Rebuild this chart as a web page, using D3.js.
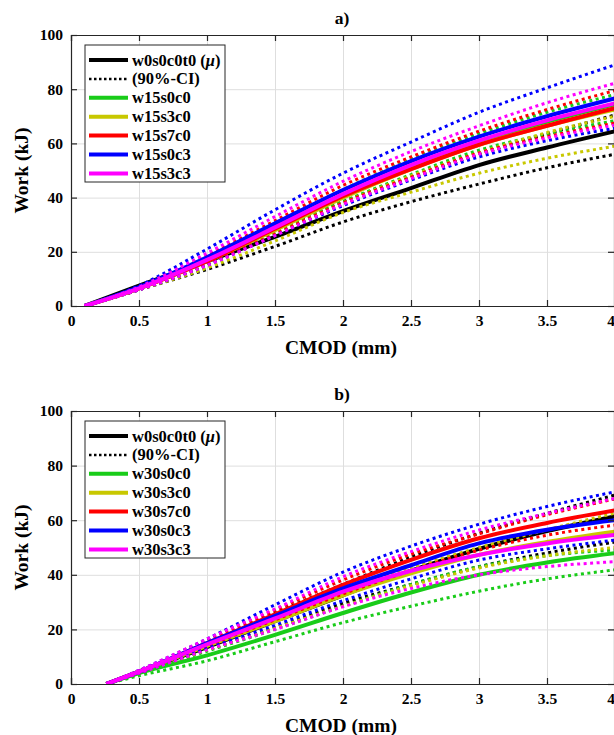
<!DOCTYPE html>
<html><head><meta charset="utf-8">
<script src="https://cdn.jsdelivr.net/npm/d3@7"></script>
<style>
body{margin:0;background:#fff;}
svg{display:block;font-family:"Liberation Serif","Times New Roman",serif;font-weight:bold;}
</style>
</head><body><svg id="c" width="614" height="735"></svg>
<script>
// ---------- data ----------
const xTicks = [0, 0.5, 1, 1.5, 2, 2.5, 3, 3.5, 4];
const yTicks = [0, 20, 40, 60, 80, 100];
const xTickLabels = ["0", "0.5", "1", "1.5", "2", "2.5", "3", "3.5", "4"];
const yTickLabels = ["0", "20", "40", "60", "80", "100"];

const cmodA = [0.1, 0.5, 1, 1.5, 2, 2.5, 3, 3.5, 4];
const cmodB = [0.26, 0.5, 1, 1.5, 2, 2.5, 3, 3.5, 4];

const namesA = ["w0s0c0t0", "w15s0c0", "w15s3c0", "w15s7c0", "w15s0c3", "w15s3c3"];
const namesB = ["w0s0c0t0", "w30s0c0", "w30s3c0", "w30s7c0", "w30s0c3", "w30s3c3"];
const colors = ["#000000", "#19cc19", "#c8c800", "#ff0000", "#0000ff", "#ff00ff"];

// panel a) : mean, upper CI, lower CI (kJ)
const a_w0_mean  = [0, 7.5, 16.5, 25.5, 35, 43.5, 52, 58.5, 64.5];
const a_w0_up    = [0, 7, 17.5, 28, 38.5, 47.5, 56, 63.5, 70.5];
const a_w0_lo    = [0, 6, 13.5, 22, 31, 38.5, 45, 51, 56];
const a_s0c0_mean= [0, 6.5, 17, 29, 41, 51.5, 60.5, 68, 74.5];
const a_s0c0_up  = [0, 7, 18, 30.5, 43, 54, 63.5, 71.5, 78];
const a_s0c0_lo  = [0, 6, 15.5, 27, 38.5, 48.5, 57.5, 63.5, 68.4];
const a_s3c0_mean= [0, 6.5, 16.5, 28, 40, 50.5, 59.5, 66.5, 72.5];
const a_s3c0_up  = [0, 6.5, 15.5, 26.5, 38, 48, 56.5, 64, 70];
const a_s3c0_lo  = [0, 6, 14, 24, 34.5, 42, 49, 54.5, 59];
const a_s7c0_mean= [0, 6.5, 16.5, 28.5, 40.5, 50.5, 59.5, 66.5, 73];
const a_s7c0_up  = [0, 7, 18.5, 31.5, 44.5, 55, 64.5, 72.5, 79.5];
const a_s7c0_lo  = [0, 6, 15.5, 26.5, 38, 47.5, 56.5, 62.5, 67.5];
const a_s0c3_mean= [0, 7, 18, 30.5, 42.8, 53.5, 62.5, 70, 76.6];
const a_s0c3_up  = [0, 7.5, 21, 35.5, 49, 60.5, 71.5, 80.5, 89];
const a_s0c3_lo  = [0, 6, 15, 26, 37, 46.5, 55, 61, 65.6];
const a_s3c3_mean= [0, 6.5, 17, 29, 41.3, 52, 61, 68.5, 74.8];
const a_s3c3_up  = [0, 7, 19.5, 33, 46, 57, 66.5, 75, 82.2];
const a_s3c3_lo  = [0, 6, 15, 26, 37.5, 47, 56, 62, 66.8];

// panel b)
const b_w0_mean  = [0, 4.5, 13.5, 23, 32.5, 41.5, 49.5, 56, 61.4];
const b_w0_up    = [0, 4.5, 15, 26, 36.5, 46.5, 55.2, 62.5, 69.2];
const b_w0_lo    = [0, 4, 12.5, 20.5, 29.5, 36.5, 43, 48, 52];
const b_s0c0_mean= [0, 4, 10.5, 18, 26, 33.5, 40, 44.5, 47.9];
const b_s0c0_up  = [0, 4, 12, 20, 28.5, 36.5, 43, 47, 49.1];
const b_s0c0_lo  = [0, 3, 8.5, 15.5, 22.5, 28.5, 34, 38.5, 41.8];
const b_s3c0_mean= [0, 4.5, 14, 23, 32.5, 40.5, 47.3, 52, 55.8];
const b_s3c0_up  = [0, 4.5, 15, 25, 34.5, 42.5, 50, 56.5, 62.6];
const b_s3c0_lo  = [0, 4, 12.5, 20.5, 28.5, 36, 42.5, 47, 50];
const b_s7c0_mean= [0, 4.5, 15, 25.5, 36.3, 45.5, 53.4, 59, 63.6];
const b_s7c0_up  = [0, 4.5, 16, 27, 38.1, 47.5, 55, 62, 67.8];
const b_s7c0_lo  = [0, 4, 14, 23.5, 33, 41.5, 49, 54.5, 58.2];
const b_s0c3_mean= [0, 4.5, 15, 25, 35, 43.5, 51.5, 56.5, 60];
const b_s0c3_up  = [0, 5, 16.5, 29, 41, 50.5, 58.5, 65, 70.4];
const b_s0c3_lo  = [0, 4, 13, 21.5, 30.5, 38.5, 45.4, 49.5, 52.7];
const b_s3c3_mean= [0, 4.5, 14.5, 24, 33.8, 41.5, 47.3, 51.5, 54.6];
const b_s3c3_up  = [0, 5, 16.5, 27.5, 39.3, 48.5, 56.4, 62.5, 68];
const b_s3c3_lo  = [0, 4, 12.5, 20, 28.3, 35, 40, 43, 44.8];

const seriesA = [
  [a_w0_mean, a_w0_up, a_w0_lo], [a_s0c0_mean, a_s0c0_up, a_s0c0_lo],
  [a_s3c0_mean, a_s3c0_up, a_s3c0_lo], [a_s7c0_mean, a_s7c0_up, a_s7c0_lo],
  [a_s0c3_mean, a_s0c3_up, a_s0c3_lo], [a_s3c3_mean, a_s3c3_up, a_s3c3_lo]
];
const seriesB = [
  [b_w0_mean, b_w0_up, b_w0_lo], [b_s0c0_mean, b_s0c0_up, b_s0c0_lo],
  [b_s3c0_mean, b_s3c0_up, b_s3c0_lo], [b_s7c0_mean, b_s7c0_up, b_s7c0_lo],
  [b_s0c3_mean, b_s0c3_up, b_s0c3_lo], [b_s3c3_mean, b_s3c3_up, b_s3c3_lo]
];

// ---------- drawing ----------
const svg = d3.select("#c");
const L = 71, R = 615;

function panel(id, title, top, bottom, cmod, series, names) {
  const x = d3.scaleLinear().domain([0, 4]).range([L, R]);
  const y = d3.scaleLinear().domain([0, 100]).range([bottom, top]);
  const g = svg.append("g");
  const W = R - L, H = bottom - top;

  // grid
  g.append("g").attr("transform", `translate(0,${bottom})`)
    .call(d3.axisBottom(x).tickValues(xTicks).tickSize(-H).tickFormat(""))
    .call(s => { s.select(".domain").remove(); s.selectAll("line").attr("stroke", "#dedede").attr("stroke-width", 1); });
  g.append("g").attr("transform", `translate(${L},0)`)
    .call(d3.axisLeft(y).tickValues(yTicks).tickSize(-W).tickFormat(""))
    .call(s => { s.select(".domain").remove(); s.selectAll("line").attr("stroke", "#dedede").attr("stroke-width", 1); });

  // curves
  const clipId = "clip" + id;
  svg.append("clipPath").attr("id", clipId).append("rect")
    .attr("x", L).attr("y", top).attr("width", W).attr("height", H);
  const cg = g.append("g").attr("clip-path", `url(#${clipId})`);
  const line = d3.line().x((d, i) => x(cmod[i])).y(d => y(d)).curve(d3.curveMonotoneX);
  series.forEach((s, k) => {
    cg.append("path").attr("d", line(s[0])).attr("fill", "none")
      .attr("stroke", colors[k]).attr("stroke-width", 4);
    [s[1], s[2]].forEach(ci => {
      cg.append("path").attr("d", line(ci)).attr("fill", "none")
        .attr("stroke", colors[k]).attr("stroke-width", 3)
        .attr("stroke-dasharray", "3,3.5");
    });
  });

  // axes with inward ticks
  const ax = g.append("g").attr("transform", `translate(0,${bottom})`)
    .call(d3.axisBottom(x).tickValues(xTicks).tickSize(-6).tickPadding(9)
      .tickFormat((d, i) => xTickLabels[i]));
  ax.selectAll(".tick text").filter(d => d === 4).attr("text-anchor", "end").attr("dx", -0.5);
  const ay = g.append("g").attr("transform", `translate(${L},0)`)
    .call(d3.axisLeft(y).tickValues(yTicks).tickSize(-6).tickPadding(8)
      .tickFormat((d, i) => yTickLabels[i]));
  const at = g.append("g").attr("transform", `translate(0,${top})`)
    .call(d3.axisTop(x).tickValues(xTicks).tickSize(-6).tickFormat(""));
  const ar = g.append("g").attr("transform", `translate(${R - 1},0)`)
    .call(d3.axisRight(y).tickValues(yTicks).tickSize(-6).tickFormat(""));
  [ax, ay, at, ar].forEach(a => {
    a.select(".domain").attr("stroke", "#262626").attr("stroke-width", 1.2);
    a.selectAll(".tick line").attr("stroke", "#262626").attr("stroke-width", 1.2);
    a.selectAll("text").attr("font-family", "Liberation Serif, serif")
      .attr("font-weight", "bold").attr("font-size", 15.5).attr("fill", "#000");
  });

  // labels
  g.append("text").attr("x", (L + R) / 2 - 2).attr("y", bottom + 48)
    .attr("text-anchor", "middle").attr("font-size", 19.5).text("CMOD (mm)");
  g.append("text").attr("transform", `translate(28,${(top + bottom) / 2}) rotate(-90)`)
    .attr("text-anchor", "middle").attr("font-size", 19.5).text("Work (kJ)");
  g.append("text").attr("x", (L + R) / 2 - 1).attr("y", top - 11)
    .attr("text-anchor", "middle").attr("font-size", 17.5).text(title);

  // legend
  const lx = 85, ly = top + 10, rowH = 18.9;
  const lg = g.append("g");
  lg.append("rect").attr("x", lx).attr("y", ly).attr("width", 140).attr("height", 137)
    .attr("fill", "#fff").attr("stroke", "#262626").attr("stroke-width", 1);
  const entries = [
    { label: names[0], c: colors[0], dash: null, mu: true },
    { label: "(90%-CI)", c: "#000", dash: "2.5,2.5" },
    ...names.slice(1).map((n, i) => ({ label: n, c: colors[i + 1], dash: null }))
  ];
  entries.forEach((e, i) => {
    const cy = ly + 15 + i * rowH;
    lg.append("line").attr("x1", lx + 4).attr("x2", lx + 43).attr("y1", cy).attr("y2", cy)
      .attr("stroke", e.c).attr("stroke-width", e.dash ? 2.5 : 4)
      .attr("stroke-dasharray", e.dash);
    const t = lg.append("text").attr("x", lx + 47).attr("y", cy + 5.5).attr("font-size", 16.5);
    if (e.mu) {
      t.append("tspan").text(e.label + " (");
      t.append("tspan").attr("font-style", "italic").text("μ");
      t.append("tspan").text(")");
    } else t.text(e.label);
  });
}

panel("a", "a)", 35, 306, cmodA, seriesA, namesA);
panel("b", "b)", 411, 684, cmodB, seriesB, namesB);
</script>
</body></html>
